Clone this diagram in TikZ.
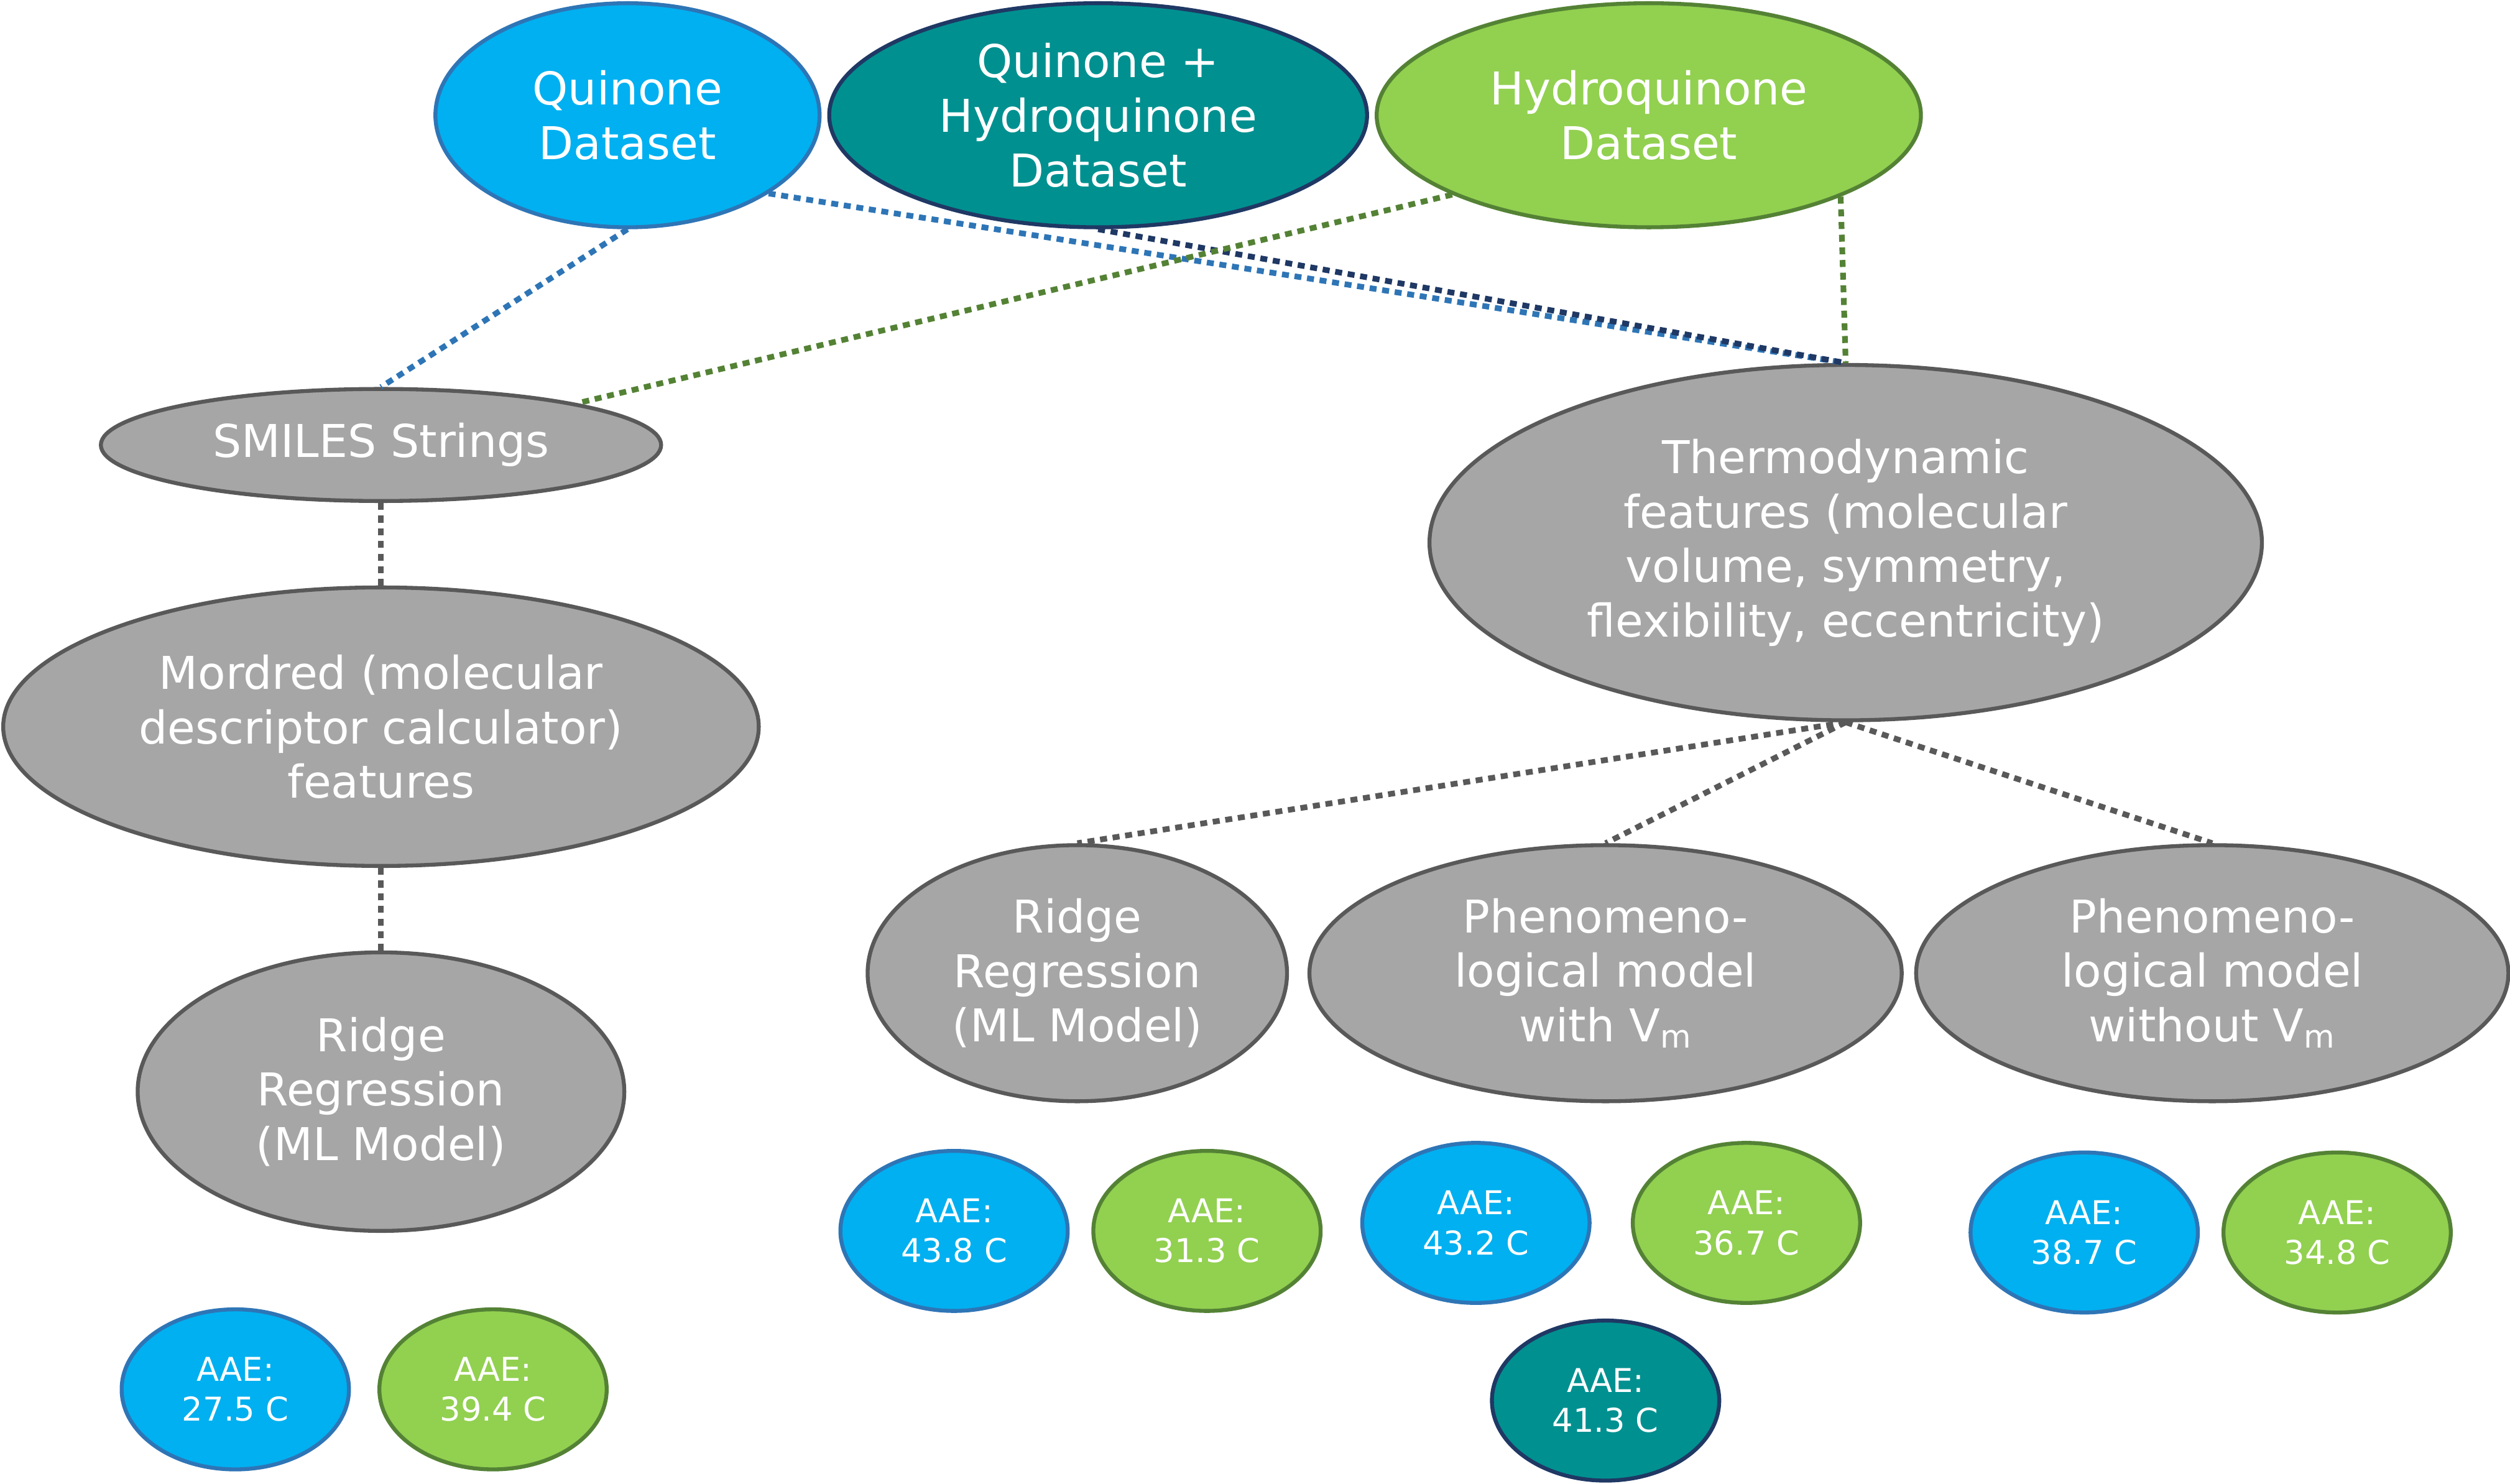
\documentclass[tikz,border=0pt]{standalone}
\usepackage{fontspec}
\setmainfont{DejaVu Sans}
\usepackage{tikz}
\usetikzlibrary{shapes.geometric}
\usepackage{xcolor}
\definecolor{qblue}{RGB}{0,176,240}
\definecolor{qblueline}{RGB}{46,117,182}
\definecolor{hgreen}{RGB}{146,208,80}
\definecolor{hgreenline}{RGB}{84,130,53}
\definecolor{qhteal}{RGB}{0,144,144}
\definecolor{qhnavy}{RGB}{31,56,100}
\definecolor{featgray}{RGB}{166,166,166}
\definecolor{featline}{RGB}{89,89,89}
\newcommand{\pxu}{0.25746mm}

\begin{document}
\begin{tikzpicture}[x=\pxu, y=-\pxu,
  bubble/.style={ellipse, draw, line width=1.8pt, inner sep=-1mm,
    align=center, text=white, font=\fontsize{20.7}{24.9}\selectfont},
  quin/.style={bubble, fill=qblue, draw=qblueline},
  hyd/.style={bubble, fill=hgreen, draw=hgreenline},
  both/.style={bubble, fill=qhteal, draw=qhnavy},
  feat/.style={bubble, fill=featgray, draw=featline},
  aae/.style={ellipse, draw, line width=1.8pt, inner sep=-1mm,
    align=center, text=white, font=\fontsize{15}{18.3}\selectfont,
    minimum width=142*\pxu, minimum height=100*\pxu},
  aaeq/.style={aae, fill=qblue, draw=qblueline},
  aaeh/.style={aae, fill=hgreen, draw=hgreenline},
  aaeb/.style={aae, fill=qhteal, draw=qhnavy},
  link/.style={line width=2.6pt, dash pattern=on 3.2pt off 2.6pt}]
  \useasboundingbox (0,0) rectangle (1568,927);

  % datasets
  \node[quin, minimum width=240*\pxu, minimum height=140*\pxu]
    (quinone) at (392,72) {Quinone\\Dataset};
  \node[both, minimum width=336*\pxu, minimum height=140*\pxu]
    (quinhyd) at (686,72) {Quinone +\\Hydroquinone\\Dataset};
  \node[hyd, minimum width=340*\pxu, minimum height=140*\pxu]
    (hydro) at (1030,72) {Hydroquinone\\Dataset};

  % features
  \node[feat, minimum width=350*\pxu, minimum height=70*\pxu]
    (smiles) at (238,278) {SMILES Strings};
  \node[feat, minimum width=520*\pxu, minimum height=222*\pxu]
    (thermo) at (1153,339)
    {Thermodynamic\\features (molecular\\volume, symmetry,\\flexibility, eccentricity)};
  \node[feat, minimum width=472*\pxu, minimum height=174*\pxu]
    (mordred) at (238,454)
    {Mordred (molecular\\descriptor calculator)\\features};

  % models
  \node[feat, minimum width=304*\pxu, minimum height=174*\pxu]
    (ridgeA) at (238,682) {Ridge\\Regression\\(ML Model)};
  \node[feat, minimum width=262*\pxu, minimum height=160*\pxu]
    (ridgeB) at (673,608) {Ridge\\Regression\\(ML Model)};
  \node[feat, minimum width=370*\pxu, minimum height=160*\pxu]
    (phenoA) at (1003,608) {Phenomeno-\\logical model\\with V\textsubscript{m}};
  \node[feat, minimum width=370*\pxu, minimum height=160*\pxu]
    (phenoB) at (1382,608) {Phenomeno-\\logical model\\without V\textsubscript{m}};

  % errors
  \foreach \x/\y/\s/\v/\n in {147/868/aaeq/27.5/a, 308/868/aaeh/39.4/b,
                              596/769/aaeq/43.8/c, 754/769/aaeh/31.3/d,
                              922/764/aaeq/43.2/e, 1091/764/aaeh/36.7/f,
                              1003/875/aaeb/41.3/g,
                              1302/770/aaeq/38.7/h, 1460/770/aaeh/34.8/i}
    \node[\s] (aae\n) at (\x,\y) {AAE:\\\v~C};

  % links
  \draw[link, qblueline] (quinone.south) -- (smiles.north);
  \draw[link, qblueline] (quinone.-29) -- (thermo.north);
  \draw[link, qhnavy] (quinhyd.south) -- (thermo.north);
  \draw[link, hgreenline] (hydro.202) -- (smiles.12);
  \draw[link, hgreenline] (hydro.-23) -- (thermo.north);
  \draw[link, featline] (smiles.south) -- (mordred.north);
  \draw[link, featline] (mordred.south) -- (ridgeA.north);
  \foreach \t in {ridgeB, phenoA, phenoB}
    \draw[link, featline] (thermo.south) -- (\t.north);

\end{tikzpicture}
\end{document}
